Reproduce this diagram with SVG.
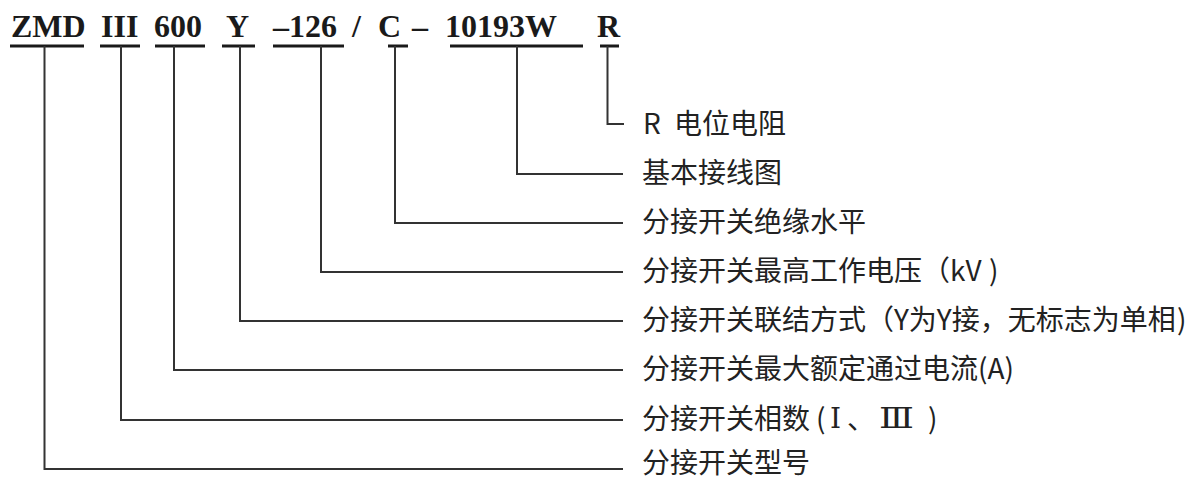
<svg xmlns="http://www.w3.org/2000/svg" width="1192" height="479" viewBox="0 0 1192 479">
<style>
.code{font-family:"Liberation Serif","Times New Roman",serif;font-weight:bold;font-size:32px;fill:#1a1a1a}
.ul{stroke:#1a1a1a;stroke-width:3;fill:none}
.conn{stroke:#333;stroke-width:2;fill:none}
.lbl{font-family:"Noto Sans CJK SC","Noto Sans",sans-serif;font-size:28px;fill:#222;dominant-baseline:central}
.rn{font-family:"DejaVu Serif","Liberation Serif",serif;font-size:28px;fill:#222}
</style>
<rect width="1192" height="479" fill="#fff"/>
<g id="code">
<text class="code" x="11" y="37">ZMD</text>
<text class="code" x="101" y="37">III</text>
<text class="code" x="154" y="37">600</text>
<text class="code" x="226" y="37">Y</text>
<text class="code" x="273" y="37">–126</text>
<text class="code" x="352" y="37">/</text>
<text class="code" x="378" y="37">C</text>
<text class="code" x="412" y="37">–</text>
<text class="code" x="445" y="37">10193W</text>
<text class="code" x="597" y="37">R</text>
<path class="ul" d="M10 46H84M100 46H140M155 46H205M222 46H255M273 46H344M388 46H408M450 46H583M600 46H619"/>
</g>
<g id="connectors">
<path class="conn" d="M607.5 46V124H624"/>
<path class="conn" d="M517 46V174H623"/>
<path class="conn" d="M395 46V223H623"/>
<path class="conn" d="M321 46V272H623"/>
<path class="conn" d="M240 46V321H623"/>
<path class="conn" d="M174 46V370H623"/>
<path class="conn" d="M121 46V420H623"/>
<path class="conn" d="M44.5 46V469H623"/>
</g>
<g id="n-r"><text class="lbl" x="643" y="122">R<tspan x="674">电位电阻</tspan></text></g>
<g id="n-wiring"><text class="lbl" x="642" y="171">基本接线图</text></g>
<g id="n-insulation"><text class="lbl" x="642" y="220">分接开关绝缘水平</text></g>
<g id="n-voltage"><text class="lbl" x="642" y="269">分接开关最高工作电压（kV<tspan x="989">)</tspan></text></g>
<g id="n-connection"><text class="lbl" x="642" y="318">分接开关联结方式（Y为Y接，无标志为单相<tspan x="1177">)</tspan></text></g>
<g id="n-current"><text class="lbl" x="642" y="367">分接开关最大额定通过电流(A)</text></g>
<g id="n-phases">
<text class="lbl" x="642" y="417">分接开关相数<tspan x="816">(</tspan><tspan x="847">、</tspan><tspan x="928">)</tspan></text>
<text class="rn" x="830" y="428">Ⅰ</text>
<text class="rn" x="879" y="428" textLength="35" lengthAdjust="spacingAndGlyphs">Ⅲ</text>
</g>
<g id="n-model"><text class="lbl" x="642" y="461">分接开关型号</text></g>
</svg>
